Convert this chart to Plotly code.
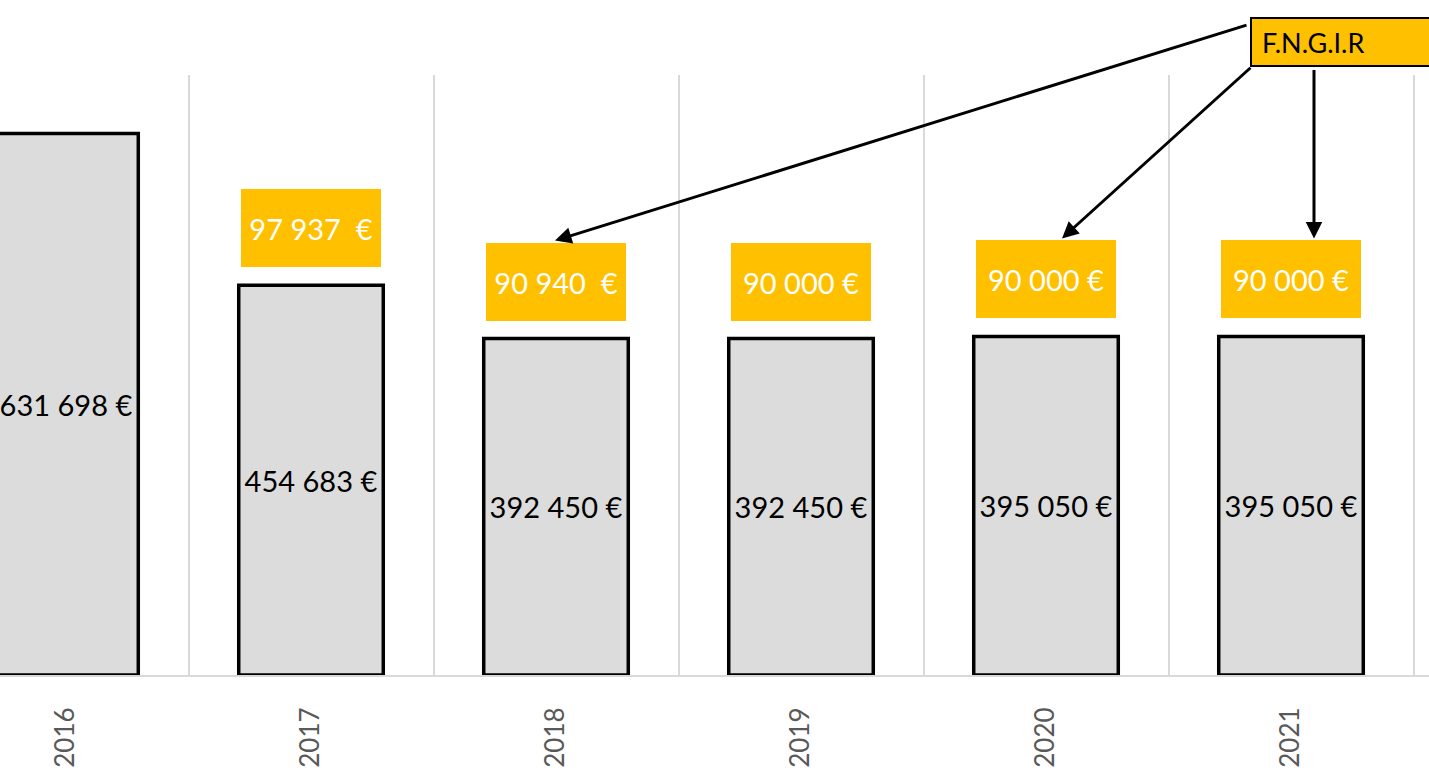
import plotly.graph_objects as go

years = ["2016", "2017", "2018", "2019", "2020", "2021"]
dotations = [631698, 454683, 392450, 392450, 395050, 395050]
fngir = [None, 97937, 90940, 90000, 90000, 90000]
fngir_labels = ["", "97 937\u00a0 €", "90 940\u00a0 €", "90 000 €", "90 000 €", "90 000 €"]
callout_label = "F.N.G.I.R"
arrow_targets = ["2018", "2020", "2021"]


def fmt(v):
    return f"{v:,}".replace(",", " ") + " €"


xpos = list(range(len(years)))
FONT = "Lato, 'Noto Sans', sans-serif"
YELLOW = "#FFC000"
X0, STEP, W = 66, 245, 1429

fig = go.Figure()
fig.add_trace(go.Bar(
    x=xpos, y=dotations,
    text=[fmt(v) for v in dotations],
    textposition="inside", insidetextanchor="middle", constraintext="none",
    textfont=dict(family=FONT, size=29, color="black"),
    marker=dict(color="#DCDCDC", line=dict(color="black", width=3.5)),
    width=0.59, hoverinfo="skip",
))

annotations = []
# yellow value boxes above bars
for i, (v, lab) in enumerate(zip(fngir, fngir_labels)):
    if v is None:
        continue
    annotations.append(dict(
        x=i, y=dotations[i], xref="x", yref="y", text=lab, showarrow=False,
        yanchor="bottom", yshift=18, width=140, height=78,
        bgcolor=YELLOW, borderpad=0, borderwidth=0,
        font=dict(family=FONT, size=29, color="white"), align="center",
    ))

# callout box
annotations.append(dict(
    x=1.012, y=1.097, xref="paper", yref="paper", xanchor="right", yanchor="top",
    text=callout_label, showarrow=False, width=172, height=26, align="left",
    bgcolor=YELLOW, bordercolor="black", borderwidth=2, borderpad=10,
    font=dict(family=FONT, size=27, color="black"),
))

# arrows from callout to boxes (head at box top, tail at callout)
arrow_cfg = {"2018": (-1, 693, -216), "2020": (16, 190, -172), "2021": (23, 0, -170)}
for yr in arrow_targets:
    i = years.index(yr)
    xs, ax, ay = arrow_cfg[yr]
    annotations.append(dict(
        x=i, y=dotations[i], xref="x", yref="y", xshift=xs, yshift=98,
        text="", showarrow=True, axref="pixel", ayref="pixel", ax=ax, ay=ay,
        arrowhead=2, arrowsize=1.1, arrowwidth=3, arrowcolor="black", standoff=0,
    ))

fig.update_layout(
    width=W, height=775,
    margin=dict(l=0, r=0, t=75, b=100),
    plot_bgcolor="white", paper_bgcolor="white",
    showlegend=False, annotations=annotations,
    xaxis=dict(
        range=[-X0 / STEP, (W - X0) / STEP],
        tickmode="array", tickvals=xpos, ticktext=years, tickangle=-90,
        tickfont=dict(family=FONT, size=26, color="#595959"),
        ticks="outside", ticklen=20, tickcolor="rgba(0,0,0,0)",
        showgrid=False, zeroline=False,
        showline=True, linecolor="#D9D9D9", linewidth=2,
        minor=dict(tick0=0.5, dtick=1, showgrid=True, gridcolor="#D9D9D9", gridwidth=2, ticks=""),
    ),
    yaxis=dict(range=[0, 700000], visible=False, showgrid=False, zeroline=False),
)

fig.write_html("out.html", config={"displayModeBar": False},
               post_script="document.body.style.margin='0';")
